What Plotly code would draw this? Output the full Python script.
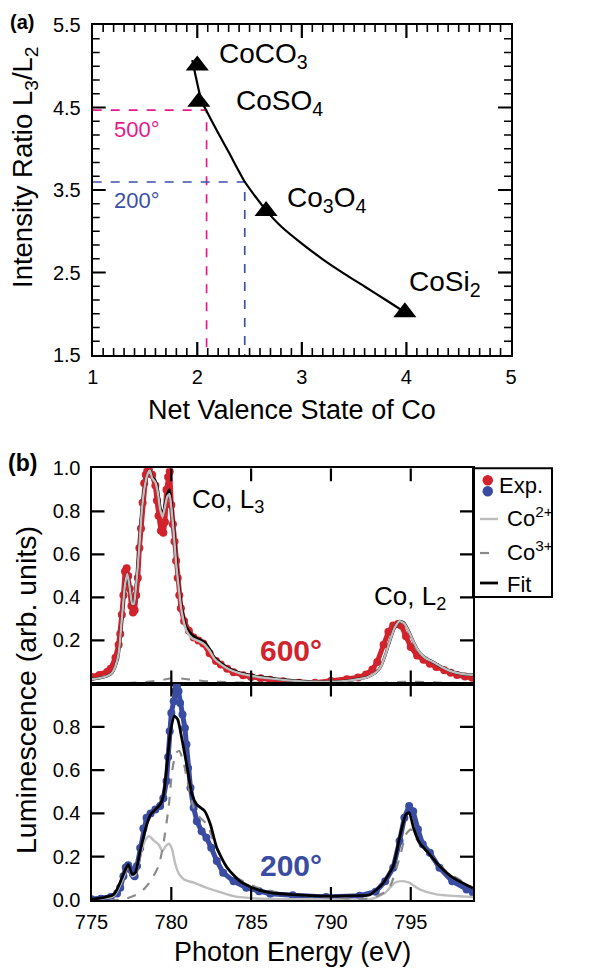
import plotly.graph_objects as go

# The page body has an 8px margin; work in page pixels and convert.
OFF = 8
W, H = 610 - OFF, 975 - OFF
def px(x): return (x - OFF) / W
def py(y): return 1 - (y - OFF) / H

FONT = "Liberation Sans, Arial, Helvetica, sans-serif"
RED = "#d2232d"
BLUE = "#3a4ca2"
PINK = "#e8198b"
DBLUE = "#3c50a8"
GRAY2 = "#bdbdbd"
GRAY3 = "#8a8a8a"

# ---------------- Panel (a) data ----------------
compounds = ["CoCO<sub>3</sub>", "CoSO<sub>4</sub>", "Co<sub>3</sub>O<sub>4</sub>", "CoSi<sub>2</sub>"]
valence = [2.00, 2.015, 2.658, 3.985]
ratio = [5.01, 4.57, 3.245, 2.018]
label_x = [2.19, 2.35, 2.84, 4.005]
label_y = [5.13, 4.56, 3.39, 2.37]

curve_x = [1.952, 1.985, 2.02, 2.06, 2.10, 2.20, 2.30, 2.454, 2.55, 2.658, 2.80, 3.00, 3.20,
           3.40, 3.60, 3.80, 3.985]
curve_y = [5.075, 4.88, 4.68, 4.53, 4.43, 4.19, 3.96, 3.60, 3.43, 3.253, 3.06, 2.85, 2.66,
           2.49, 2.33, 2.17, 2.018]

read_500 = (2.089, 4.468)
read_200 = (2.454, 3.597)

x_ticks_a = [1, 2, 3, 4, 5]
y_ticks_a = [1.5, 2.5, 3.5, 4.5, 5.5]
x_minor_a = [1 + i / 10 for i in range(1, 40) if i % 10]
y_minor_a = [1.5 + i / 6 for i in range(1, 24) if i % 6]

# ---------------- Panel (b) data ----------------
# 600 deg
e600_x = [775.0, 775.5, 776.0, 776.2, 776.5, 776.7, 776.8, 776.9, 777.0, 777.1, 777.2, 777.3, 777.4,
          777.5, 777.6, 777.7, 777.8, 777.9, 778.0, 778.1, 778.2, 778.3, 778.4, 778.5, 778.6, 778.8,
          779.0, 779.1, 779.2, 779.35, 779.5, 779.6, 779.7, 779.8, 779.9, 780.0, 780.1, 780.2, 780.3,
          780.4, 780.5, 780.6, 780.8, 781.1, 781.4, 781.7, 782.0, 782.4, 782.8, 783.1, 783.5, 783.9,
          784.5, 785.0, 785.6, 786.2, 787.0, 788.0, 789.0, 790.0, 791.0, 791.7, 792.2, 792.6, 792.9,
          793.3, 793.6, 793.9, 794.2, 794.4, 794.7, 795.0, 795.4, 795.8, 796.2, 796.6, 797.1, 797.5,
          797.9, 798.4, 798.85]
e600_y = [0.03, 0.04, 0.055, 0.068, 0.12, 0.18, 0.23, 0.32, 0.41, 0.52, 0.535, 0.50, 0.44,
          0.36, 0.33, 0.34, 0.41, 0.49, 0.63, 0.72, 0.84, 0.93, 0.97, 0.99, 1.0, 0.97,
          0.92, 0.85, 0.78, 0.71, 0.70, 0.75, 0.90, 0.96, 0.985, 0.83, 0.74, 0.66, 0.57,
          0.49, 0.41, 0.35, 0.29, 0.245, 0.214, 0.20, 0.186, 0.14, 0.105, 0.088, 0.068, 0.052,
          0.038, 0.03, 0.024, 0.018, 0.01, 0.004, 0.004, 0.012, 0.02, 0.028, 0.042, 0.065, 0.10,
          0.18, 0.24, 0.27, 0.277, 0.27, 0.22, 0.17, 0.13, 0.11, 0.092, 0.077, 0.062, 0.05,
          0.04, 0.032, 0.027]

f600_x = [775.0, 775.5, 776.0, 776.3, 776.5, 776.7, 776.9, 777.1, 777.25, 777.4, 777.55, 777.65, 777.8,
          778.0, 778.15, 778.3, 778.5, 778.65, 778.8, 779.0, 779.15, 779.3, 779.45, 779.6, 779.75, 779.88,
          780.0, 780.15, 780.3, 780.45, 780.65, 780.95, 781.3, 781.6, 781.9, 782.1, 782.4, 782.7, 783.1,
          783.6, 784.3, 785.0, 786.0, 787.0, 788.0, 789.0, 790.0, 791.0, 791.7, 792.3, 792.8, 793.1,
          793.4, 793.7, 794.0, 794.3, 794.6, 794.9, 795.2, 795.5, 795.9, 796.4, 797.0, 797.6, 798.2, 798.9]
f600_y = [0.02, 0.025, 0.035, 0.05, 0.08, 0.14, 0.30, 0.46, 0.51, 0.44, 0.37, 0.37, 0.46,
          0.645, 0.80, 0.90, 0.97, 0.99, 0.96, 0.94, 0.90, 0.82, 0.78, 0.83, 0.88, 0.90,
          0.84, 0.72, 0.58, 0.47, 0.35, 0.26, 0.225, 0.21, 0.20, 0.19, 0.16, 0.12, 0.095,
          0.07, 0.05, 0.038, 0.027, 0.018, 0.012, 0.008, 0.008, 0.012, 0.02, 0.03, 0.05, 0.075,
          0.13, 0.20, 0.26, 0.29, 0.28, 0.24, 0.19, 0.15, 0.12, 0.10, 0.075, 0.055, 0.045, 0.04]
c2_600_y = [0.02, 0.025, 0.035, 0.05, 0.08, 0.14, 0.30, 0.46, 0.51, 0.44, 0.37, 0.37, 0.46,
            0.64, 0.80, 0.90, 0.97, 0.99, 0.955, 0.935, 0.89, 0.81, 0.775, 0.82, 0.87, 0.88,
            0.82, 0.70, 0.56, 0.455, 0.335, 0.245, 0.21, 0.20, 0.19, 0.18, 0.152, 0.115, 0.09,
            0.066, 0.047, 0.036, 0.025, 0.017, 0.011, 0.008, 0.008, 0.012, 0.02, 0.03, 0.05, 0.075,
            0.13, 0.20, 0.26, 0.29, 0.278, 0.238, 0.19, 0.15, 0.12, 0.10, 0.075, 0.055, 0.045, 0.04]
c3_600_x = [775.0, 777.0, 778.5, 779.5, 780.2, 781.0, 782.0, 784.0, 787.0, 790.0, 793.0, 794.5, 795.5, 797.0, 798.9]
c3_600_y = [0.0, 0.002, 0.008, 0.018, 0.025, 0.02, 0.012, 0.005, 0.002, 0.0, 0.002, 0.008, 0.008, 0.004, 0.002]

# 200 deg
e200_x = [775.0, 775.6, 776.2, 776.6, 776.8, 777.0, 777.15, 777.3, 777.45, 777.6, 777.7, 777.85,
          778.05, 778.25, 778.45, 778.7, 779.0, 779.3, 779.5, 779.7, 779.8, 779.9, 780.0, 780.15,
          780.25, 780.35, 780.45, 780.55, 780.7, 780.85, 780.95, 781.05, 781.2, 781.4, 781.6, 781.9,
          782.2, 782.5, 782.85, 783.25, 783.9, 784.7, 785.5, 786.2, 787.6, 789.7, 791.8, 792.8, 793.4,
          793.9, 794.3, 794.6, 794.9, 795.15, 795.45, 795.75, 796.2, 796.8, 797.6, 798.5, 798.9]
e200_y = [0.003, 0.006, 0.014, 0.03, 0.057, 0.11, 0.15, 0.16, 0.14, 0.12, 0.11, 0.157,
          0.24, 0.33, 0.38, 0.40, 0.418, 0.434, 0.47, 0.55, 0.66, 0.78, 0.864, 0.918,
          0.964, 0.987, 0.964, 0.91, 0.857, 0.795, 0.718, 0.61, 0.518, 0.426, 0.364, 0.318,
          0.288, 0.241, 0.18, 0.126, 0.087, 0.057, 0.04, 0.029, 0.022, 0.014, 0.02, 0.038, 0.087,
          0.149, 0.272, 0.38, 0.434, 0.41, 0.326, 0.257, 0.218, 0.149, 0.087, 0.049, 0.034]

f200_x = [775.0, 776.4, 777.0, 777.3, 777.55, 777.75, 778.05, 778.4, 778.7, 779.0, 779.3, 779.5,
          779.75, 779.95, 780.2, 780.4, 780.65, 781.0, 781.3, 781.6, 782.1, 782.45, 782.85, 783.5,
          784.3, 785.35, 786.2, 787.6, 789.7, 791.5, 792.4, 793.2, 793.9, 794.3, 794.7, 794.9,
          795.2, 795.55, 796.1, 796.8, 797.65, 798.9]
f200_y = [0.003, 0.026, 0.118, 0.165, 0.118, 0.126, 0.226, 0.333, 0.395, 0.418, 0.441, 0.48,
          0.641, 0.78, 0.849, 0.834, 0.749, 0.61, 0.487, 0.441, 0.41, 0.349, 0.241, 0.149,
          0.087, 0.049, 0.034, 0.025, 0.018, 0.02, 0.023, 0.072, 0.157, 0.288, 0.395, 0.403,
          0.326, 0.264, 0.218, 0.157, 0.103, 0.054]

c2_200_x = [775.0, 776.4, 777.0, 777.3, 777.55, 777.75, 778.05, 778.4, 778.6, 778.9, 779.2, 779.45,
            779.65, 779.85, 780.05, 780.25, 780.5, 780.8, 781.4, 782.1, 782.85, 783.9, 785.35, 787.0,
            790.0, 792.5, 793.4, 794.0, 794.5, 794.9, 795.55, 796.6, 798.9]
c2_200_y = [0.003, 0.018, 0.103, 0.16, 0.11, 0.118, 0.21, 0.28, 0.295, 0.275, 0.257, 0.226,
            0.249, 0.26, 0.234, 0.165, 0.118, 0.095, 0.08, 0.06, 0.041, 0.018, 0.007, 0.004,
            0.003, 0.004, 0.033, 0.08, 0.087, 0.08, 0.049, 0.026, 0.014]

c3_200_x = [775.0, 777.0, 778.06, 778.7, 779.2, 779.5, 779.85, 780.05, 780.3, 780.5, 780.75, 781.05,
            781.4, 781.8, 782.25, 782.65, 783.3, 784.1, 785.15, 786.2, 788.0, 790.0, 792.5, 793.6,
            794.3, 794.7, 795.0, 795.3, 795.8, 796.4, 797.2, 798.9]
c3_200_y = [0.0, 0.003, 0.034, 0.087, 0.157, 0.257, 0.441, 0.595, 0.68, 0.688, 0.641, 0.534,
            0.426, 0.38, 0.349, 0.272, 0.172, 0.103, 0.064, 0.041, 0.022, 0.011, 0.008, 0.049,
            0.195, 0.303, 0.326, 0.288, 0.241, 0.195, 0.134, 0.057]

x_ticks_b = [775, 780, 785, 790, 795]
y_ticks_upper = [0.2, 0.4, 0.6, 0.8, 1.0]
y_ticks_lower = [0.0, 0.2, 0.4, 0.6, 0.8]

# axis ranges
XR_A, YR_A = (1, 5), (1.5, 5.5)
XR_B, YR_B = (775, 798.9), (0, 1.0)

fig = go.Figure()

# ---- panel (a) traces ----
fig.add_trace(go.Scatter(x=[XR_A[0], read_500[0], read_500[0]], y=[read_500[1], read_500[1], YR_A[0]],
                         mode="lines", line=dict(color=PINK, width=1.7, dash="dash"),
                         xaxis="x", yaxis="y", showlegend=False, hoverinfo="skip"))
fig.add_trace(go.Scatter(x=[XR_A[0], read_200[0], read_200[0]], y=[read_200[1], read_200[1], YR_A[0]],
                         mode="lines", line=dict(color=DBLUE, width=1.7, dash="dash"),
                         xaxis="x", yaxis="y", showlegend=False, hoverinfo="skip"))
fig.add_trace(go.Scatter(x=curve_x, y=curve_y, mode="lines",
                         line=dict(color="black", width=2.2, shape="spline", smoothing=0.6),
                         xaxis="x", yaxis="y", showlegend=False))
fig.add_trace(go.Scatter(x=valence, y=ratio, mode="markers",
                         marker=dict(symbol="triangle-up", size=20, color="black"),
                         xaxis="x", yaxis="y", showlegend=False))

# ---- panel (b) traces ----
def exp_trace(x, y, color, ax, ay):
    return go.Scatter(x=x, y=y, mode="lines+markers",
                      line=dict(color=color, width=5),
                      marker=dict(color=color, size=8),
                      xaxis=ax, yaxis=ay, showlegend=False)

def line_trace(x, y, color, width, dash, ax, ay):
    return go.Scatter(x=x, y=y, mode="lines",
                      line=dict(color=color, width=width, dash=dash, shape="spline", smoothing=0.6),
                      xaxis=ax, yaxis=ay, showlegend=False)

fig.add_trace(exp_trace(e600_x, e600_y, RED, "x2", "y2"))
fig.add_trace(line_trace(c3_600_x, c3_600_y, GRAY3, 2, "dash", "x2", "y2"))
fig.add_trace(line_trace(f600_x, f600_y, "black", 2.8, "solid", "x2", "y2"))
fig.add_trace(line_trace(f600_x, c2_600_y, GRAY2, 2.4, "solid", "x2", "y2"))

fig.add_trace(exp_trace(e200_x, e200_y, BLUE, "x3", "y3"))
fig.add_trace(line_trace(c2_200_x, c2_200_y, GRAY2, 2.4, "solid", "x3", "y3"))
fig.add_trace(line_trace(c3_200_x, c3_200_y, GRAY3, 2.2, "dash", "x3", "y3"))
fig.add_trace(line_trace(f200_x, f200_y, "black", 2.8, "solid", "x3", "y3"))

# ---- inside tick marks on all four sides (drawn as line segments on each axis pair) ----
A_W, A_H = 511 - 92.7, 355 - 25
B_W, BU_H, BL_H = 473 - 91.5, 683.5 - 468.3, 900 - 683.5

def tick_trace(xvals, yvals, xr, yr, wpx, hpx, length, width, ax, ay):
    xs, ys = [], []
    ly = length * (yr[1] - yr[0]) / hpx
    lx = length * (xr[1] - xr[0]) / wpx
    for v in xvals:
        xs += [v, v, None, v, v, None]
        ys += [yr[0], yr[0] + ly, None, yr[1], yr[1] - ly, None]
    for v in yvals:
        xs += [xr[0], xr[0] + lx, None, xr[1], xr[1] - lx, None]
        ys += [v, v, None, v, v, None]
    return go.Scatter(x=xs, y=ys, mode="lines", line=dict(color="black", width=width),
                      xaxis=ax, yaxis=ay, showlegend=False, hoverinfo="skip")

fig.add_trace(tick_trace(x_ticks_a[1:-1], y_ticks_a[1:-1], XR_A, YR_A, A_W, A_H, 13, 2.2, "x", "y"))
fig.add_trace(tick_trace(x_minor_a, y_minor_a, XR_A, YR_A, A_W, A_H, 7, 1.6, "x", "y"))
fig.add_trace(tick_trace(x_ticks_b[1:], y_ticks_upper[:-1], XR_B, YR_B, B_W, BU_H, 13, 2.2, "x2", "y2"))
fig.add_trace(tick_trace(x_ticks_b[1:], y_ticks_lower[1:], XR_B, YR_B, B_W, BL_H, 13, 2.2, "x3", "y3"))

axis_common = dict(showline=True, linewidth=2, linecolor="black", mirror=True,
                   ticks="", showgrid=False, zeroline=False, automargin=False,
                   tickfont=dict(family=FONT, size=20, color="black"))

fig.update_layout(
    width=W, height=H, margin=dict(l=0, r=0, t=0, b=0, pad=0, autoexpand=False),
    paper_bgcolor="white", plot_bgcolor="white",
    font=dict(family=FONT, color="black"),
    xaxis=dict(domain=[px(92.7), px(511)], range=list(XR_A), anchor="y",
               tickvals=x_ticks_a, ticktext=[str(v) for v in x_ticks_a],
               ticklabelstandoff=3, **axis_common),
    yaxis=dict(domain=[py(355), py(25)], range=list(YR_A), anchor="x",
               tickvals=y_ticks_a, ticktext=[f"{v:.1f}" for v in y_ticks_a],
               ticklabelstandoff=6, **axis_common),
    xaxis2=dict(domain=[px(91.5), px(473)], range=list(XR_B), anchor="y2",
                tickvals=x_ticks_b, showticklabels=False, **axis_common),
    yaxis2=dict(domain=[py(683.5), py(468.3)], range=list(YR_B), anchor="x2",
                tickvals=y_ticks_upper, ticktext=[f"{v:.1f}" for v in y_ticks_upper],
                ticklabelstandoff=5, **axis_common),
    xaxis3=dict(domain=[px(91.5), px(473)], range=list(XR_B), anchor="y3",
                tickvals=x_ticks_b, ticktext=[str(v) for v in x_ticks_b],
                ticklabelstandoff=3, **axis_common),
    yaxis3=dict(domain=[py(900), py(683.5)], range=list(YR_B), anchor="x3",
                tickvals=y_ticks_lower, ticktext=[f"{v:.1f}" for v in y_ticks_lower],
                ticklabelstandoff=5, **axis_common),
)

ann = []
def A(text, x, y, xref="paper", yref="paper", size=20, color="black", xanchor="center",
      yanchor="middle", angle=0, bold=False):
    if bold:
        text = f"<b>{text}</b>"
    ann.append(dict(text=text, x=x, y=y, xref=xref, yref=yref, showarrow=False,
                    font=dict(family=FONT, size=size, color=color), xanchor=xanchor,
                    yanchor=yanchor, textangle=angle))

# panel labels
A("(a)", px(22), py(8.5), size=20, bold=True, yanchor="top")
A("(b)", px(22), py(463), size=23, bold=True)
# axis titles
A("Intensity Ratio L<sub>3</sub>/L<sub>2</sub>", px(24), py(167), size=27.5, angle=-90)
A("Net Valence State of Co", px(292), py(410), size=27)
A("Luminescence (arb. units)", px(26), py(690), size=28.5, angle=-90)
A("Photon Energy (eV)", px(292), py(952), size=27)
# compound labels
for t, lx, ly in zip(compounds, label_x, label_y):
    A(t, lx, ly, xref="x", yref="y", size=28, xanchor="left")
A("500°", 1.42, 4.23, xref="x", yref="y", size=22, color=PINK)
A("200°", 1.42, 3.374, xref="x", yref="y", size=22, color=DBLUE)
# panel b labels
A("Co, L<sub>3</sub>", 781.2, 0.85, xref="x2", yref="y2", size=26, xanchor="left")
A("Co, L<sub>2</sub>", 792.6, 0.40, xref="x2", yref="y2", size=26, xanchor="left")
A("600°", 787.5, 0.155, xref="x2", yref="y2", size=30, color=RED, bold=True)
A("200°", 787.5, 0.16, xref="x3", yref="y3", size=30, color=BLUE, bold=True)

# legend (drawn manually)
A("Exp.", px(497), py(485), size=22, xanchor="left")
A("Co<sup>2+</sup>", px(505), py(517), size=22, xanchor="left")
A("Co<sup>3+</sup>", px(505), py(551), size=22, xanchor="left")
A("Fit", px(505), py(584), size=22, xanchor="left")
fig.update_layout(annotations=ann)

shapes = [
    dict(type="rect", xref="paper", yref="paper", x0=px(473), x1=px(552), y0=py(597), y1=py(468.3),
         line=dict(color="black", width=2), fillcolor="rgba(0,0,0,0)"),
    dict(type="circle", xref="paper", yref="paper", x0=px(482.5), x1=px(493), y0=py(485.5), y1=py(475),
         line=dict(color=RED, width=0), fillcolor=RED),
    dict(type="circle", xref="paper", yref="paper", x0=px(482.5), x1=px(493), y0=py(496.5), y1=py(486),
         line=dict(color=BLUE, width=0), fillcolor=BLUE),
    dict(type="line", xref="paper", yref="paper", x0=px(480), x1=px(498), y0=py(519), y1=py(519),
         line=dict(color=GRAY2, width=2.4)),
    dict(type="line", xref="paper", yref="paper", x0=px(480), x1=px(498), y0=py(553), y1=py(553),
         line=dict(color=GRAY3, width=2.2, dash="dash")),
    dict(type="line", xref="paper", yref="paper", x0=px(480), x1=px(498), y0=py(583), y1=py(583),
         line=dict(color="black", width=2.8)),
]
fig.update_layout(shapes=shapes)

fig.write_html("out.html")
